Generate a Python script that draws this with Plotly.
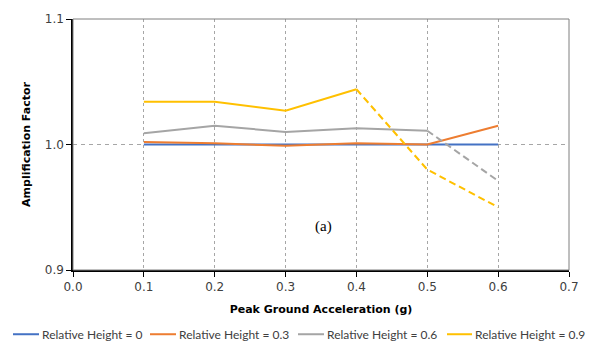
import plotly.graph_objects as go

pga = [0.1, 0.2, 0.3, 0.4, 0.5, 0.6]
rh_0 = [1.000, 1.000, 1.000, 1.000, 1.000, 1.000]
rh_03 = [1.002, 1.001, 0.999, 1.001, 1.000, 1.015]
rh_06 = [1.009, 1.015, 1.010, 1.013, 1.011, 0.971]
rh_09 = [1.034, 1.034, 1.027, 1.044, 0.980, 0.950]
series_names = ["Relative Height = 0", "Relative Height = 0.3",
                "Relative Height = 0.6", "Relative Height = 0.9"]
x_ticks = [0.0, 0.1, 0.2, 0.3, 0.4, 0.5, 0.6, 0.7]
y_ticks = [0.9, 1.0, 1.1]

colors = ["#4472C4", "#ED7D31", "#A5A5A5", "#FFC000"]
# index where the dashed part starts (None = fully solid)
dash_start = [None, None, 4, 3]
series = [rh_0, rh_03, rh_06, rh_09]

# plot area in pixels (for placing the custom legend below the axes)
L, R, T, B = 73, 569, 16, 270
def px_to_paper(px, py):
    return (px - L) / (R - L), (B - py) / (B - T)

legend_line_px = [(13, 39), (150, 176), (298, 324), (447, 472)]
legend_y_px = 335

fig = go.Figure()
for name, ys, col, ds in zip(series_names, series, colors, dash_start):
    end = len(pga) if ds is None else ds + 1
    fig.add_trace(go.Scatter(x=pga[:end], y=ys[:end], mode="lines", name=name,
                             line=dict(color=col, width=2)))
    if ds is not None:
        fig.add_trace(go.Scatter(x=pga[ds:], y=ys[ds:], mode="lines", showlegend=False,
                                 line=dict(color=col, width=2, dash="7px,4px")))

fig.add_shape(type="rect", xref="paper", yref="paper", x0=0, y0=0, x1=1, y1=1,
              line=dict(color="#7F7F7F", width=1), layer="above")

# custom legend (Excel-style compact entries)
for name, col, (x0p, x1p) in zip(series_names, colors, legend_line_px):
    xa, ya = px_to_paper(x0p, legend_y_px)
    xb, _ = px_to_paper(x1p, legend_y_px)
    fig.add_shape(type="line", xref="paper", yref="paper", x0=xa, x1=xb, y0=ya, y1=ya,
                  line=dict(color=col, width=2))
    xt, _ = px_to_paper(x1p + 1, legend_y_px)
    fig.add_annotation(xref="paper", yref="paper", x=xt, y=ya, text=name,
                       showarrow=False, xanchor="left", yanchor="middle",
                       font=dict(family="Lato", size=12, color="#404040"))

fig.add_annotation(x=0.353, y=0.9346, text="(a)", showarrow=False,
                   font=dict(family="Liberation Serif", size=15, color="black"))

fig.update_layout(
    width=599, height=343,
    margin=dict(l=L, r=599 - R, t=T, b=343 - B),
    plot_bgcolor="white", paper_bgcolor="white",
    font=dict(family="DejaVu Sans", size=12, color="#404040"),
    showlegend=False,
    xaxis=dict(range=[0, 0.7], tickvals=x_ticks, ticktext=[f"{v:.1f}" for v in x_ticks],
               showgrid=True, gridcolor="#A6A6A6", griddash="3px,3px", gridwidth=1,
               showline=True, linecolor="black", linewidth=1.5,
               ticks="outside", ticklen=5, tickcolor="black", zeroline=False,
               title=dict(text="<b>Peak Ground Acceleration (g)</b>", standoff=12,
                          font=dict(family="DejaVu Sans", size=11, color="black"))),
    yaxis=dict(range=[0.9, 1.1], tickvals=y_ticks, ticktext=[f"{v:.1f}" for v in y_ticks],
               showgrid=True, gridcolor="#A6A6A6", griddash="4px,4px", gridwidth=1,
               showline=True, linecolor="black", linewidth=1.5,
               ticks="outside", ticklen=5, tickcolor="black", zeroline=False,
               title=dict(text="<b>Amplification Factor</b>", standoff=12,
                          font=dict(family="DejaVu Sans", size=11, color="black"))),
)

fig.write_html("out.html")
